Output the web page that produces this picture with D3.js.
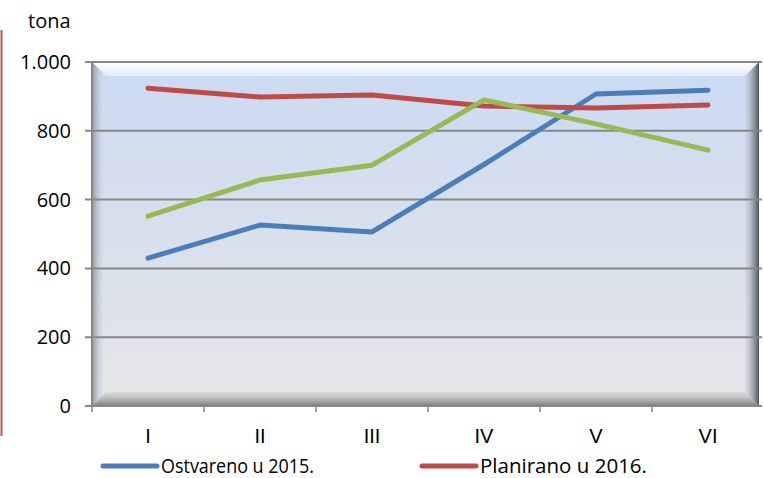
<!DOCTYPE html>
<html>
<head>
<meta charset="utf-8">
<script src="https://cdn.jsdelivr.net/npm/d3@7"></script>
<style>
  body { margin: 0; background: #fff; }
  svg { font-family: "Open Sans", "Noto Sans", sans-serif; }
</style>
</head>
<body>
<div id="chart"></div>
<script>
let months = ['I', 'II', 'III', 'IV', 'V', 'VI'];
let ostvareno2015 = [430, 526, 506, 702, 907, 918];
let planirano2016 = [924, 898, 904, 872, 866, 875];
let treca = [552, 657, 700, 890, 820, 744];
let yTicks = [0, 200, 400, 600, 800, 1000];

let width = 763, height = 478;
let margin = {top: 62, right: -1, bottom: 72, left: 92};

let svg = d3.select('#chart')
    .append('svg')
    .attr('width', width)
    .attr('height', height);

let x = d3.scaleBand()
    .domain(months)
    .range([margin.left, width - margin.right]);

let y = d3.scaleLinear()
    .domain([0, 1000])
    .range([height - margin.bottom, margin.top]);

let x0 = margin.left, x1 = width - margin.right - 5;
let y0 = margin.top, y1 = height - margin.bottom;

// background gradients
let defs = svg.append('defs');
let g1 = defs.append('linearGradient').attr('id', 'bg').attr('x1', 0).attr('y1', 0).attr('x2', 0).attr('y2', 1);
g1.append('stop').attr('offset', '0%').attr('stop-color', '#cbdaf3');
g1.append('stop').attr('offset', '100%').attr('stop-color', '#e6e6e6');
let gl = defs.append('linearGradient').attr('id', 'bl').attr('x1', 0).attr('y1', 0).attr('x2', 1).attr('y2', 0);
gl.append('stop').attr('offset', '0%').attr('stop-color', '#8f97a6');
gl.append('stop').attr('offset', '100%').attr('stop-color', '#dfe5ef').attr('stop-opacity', 0);
let gr = defs.append('linearGradient').attr('id', 'br').attr('x1', 0).attr('y1', 0).attr('x2', 1).attr('y2', 0);
gr.append('stop').attr('offset', '0%').attr('stop-color', '#c8ccd4').attr('stop-opacity', 0.3);
gr.append('stop').attr('offset', '100%').attr('stop-color', '#4d5260');
let gb = defs.append('linearGradient').attr('id', 'bb').attr('x1', 0).attr('y1', 0).attr('x2', 0).attr('y2', 1);
gb.append('stop').attr('offset', '0%').attr('stop-color', '#c9c9c9').attr('stop-opacity', 0.4);
gb.append('stop').attr('offset', '100%').attr('stop-color', '#7a7a7a');
let gt = defs.append('linearGradient').attr('id', 'bt').attr('x1', 0).attr('y1', 0).attr('x2', 0).attr('y2', 1);
gt.append('stop').attr('offset', '0%').attr('stop-color', '#ffffff');
gt.append('stop').attr('offset', '100%').attr('stop-color', '#e3ebf8');

svg.append('rect')
    .attr('x', x0).attr('y', y0)
    .attr('width', x1 - x0).attr('height', y1 - y0)
    .attr('fill', 'url(#bg)');

let b = 14;
svg.append('polygon')
    .attr('points', [[x0, y0], [x1, y0], [x1 - b, y0 + b], [x0 + b, y0 + b]].join(' '))
    .attr('fill', 'url(#bt)');
svg.append('polygon')
    .attr('points', [[x0, y0], [x0 + b, y0 + b], [x0 + b, y1 - b], [x0, y1]].join(' '))
    .attr('fill', 'url(#bl)');
svg.append('polygon')
    .attr('points', [[x1, y0], [x1, y1], [x1 - b, y1 - b], [x1 - b, y0 + b]].join(' '))
    .attr('fill', 'url(#br)');
svg.append('polygon')
    .attr('points', [[x0, y1], [x1, y1], [x1 - b, y1 - b], [x0 + b, y1 - b]].join(' '))
    .attr('fill', 'url(#bb)');

// gridlines
svg.append('g')
    .selectAll('line')
    .data(yTicks.filter(d => d > 0))
    .enter()
    .append('line')
        .attr('x1', x0 - 7)
        .attr('x2', x1 + 3)
        .attr('y1', d => y(d))
        .attr('y2', d => y(d))
        .attr('stroke', '#878787')
        .attr('stroke-width', 2);

// axes
svg.append('line')
    .attr('x1', x0).attr('x2', x0)
    .attr('y1', y0).attr('y2', y1)
    .attr('stroke', '#878787').attr('stroke-width', 2);

svg.append('g')
    .attr('transform', `translate(0, ${y1})`)
    .call(d3.axisBottom(x).tickSize(0).tickPadding(23))
    .call(g => g.select('.domain').attr('d', `M${x0 - 7},0H${x1 + 3}`).attr('stroke', '#878787').attr('stroke-width', 2))
    .call(g => g.selectAll('text').attr('font-size', 20).attr('fill', '#000'));

// x ticks between categories
svg.append('g')
    .selectAll('line')
    .data(months)
    .enter()
    .append('line')
        .attr('x1', d => x(d))
        .attr('x2', d => x(d))
        .attr('y1', y1)
        .attr('y2', y1 + 6)
        .attr('stroke', '#878787')
        .attr('stroke-width', 1.5);

svg.append('g')
    .selectAll('text')
    .data(yTicks)
    .enter()
    .append('text')
        .attr('x', x0 - 21)
        .attr('y', d => y(d) + 7)
        .attr('text-anchor', 'end')
        .attr('font-size', 20)
        .text(d => d3.format(',')(d).replace(',', '.'));

svg.append('text')
    .attr('x', 28).attr('y', 28)
    .attr('font-size', 20)
    .text('tona');

// red border line at left
svg.append('line')
    .attr('x1', 1.5).attr('x2', 1.5)
    .attr('y1', 30).attr('y2', 436)
    .attr('stroke', '#c0504d').attr('stroke-width', 2);

// series
let line = d3.line()
    .x((d, i) => x(months[i]) + x.bandwidth() / 2)
    .y(d => y(d));

let series = [
    {values: ostvareno2015, color: '#4a7ebb'},
    {values: planirano2016, color: '#be4b48'},
    {values: treca, color: '#98b954'}
];

series.forEach(s => {
    svg.append('path')
        .attr('d', line(s.values))
        .attr('fill', 'none')
        .attr('stroke', s.color)
        .attr('stroke-width', 5)
        .attr('stroke-linecap', 'round')
        .attr('stroke-linejoin', 'round');
});

// legend
let legend = [
    {label: 'Ostvareno u 2015.', color: '#4a7ebb', x: 103, w: 153},
    {label: 'Planirano u 2016.', color: '#be4b48', x: 422, w: 167}
];
legend.forEach(l => {
    svg.append('line')
        .attr('x1', l.x).attr('x2', l.x + 54)
        .attr('y1', 466).attr('y2', 466)
        .attr('stroke', l.color).attr('stroke-width', 5)
        .attr('stroke-linecap', 'round');
    svg.append('text')
        .attr('x', l.x + 58).attr('y', 473)
        .attr('font-size', 20)
        .attr('textLength', l.w)
        .attr('lengthAdjust', 'spacingAndGlyphs')
        .text(l.label);
});
</script>
</body>
</html>
